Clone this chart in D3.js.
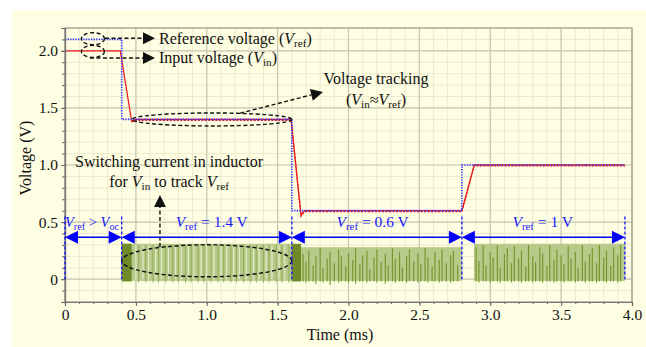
<!DOCTYPE html>
<html><head><meta charset="utf-8">
<script src="https://cdn.jsdelivr.net/npm/d3@7/dist/d3.min.js"></script>
<style>body{margin:0;background:#fff}svg{display:block}</style>
</head><body>
<svg id="c" width="646" height="347"></svg>
<script>
// ---------- data ----------
const xTicks = [0, 0.5, 1.0, 1.5, 2.0, 2.5, 3.0, 3.5, 4.0];
const xTickLabels = ["0", "0.5", "1.0", "1.5", "2.0", "2.5", "3.0", "3.5", "4.0"];
const yTicks = [0, 0.5, 1.0, 1.5, 2.0];
const yTickLabels = ["0", "0.5", "1.0", "1.5", "2.0"];

// reference voltage (step waveform)
const vrefT = [0, 0.4, 0.4, 1.6, 1.6, 2.8, 2.8, 3.95];
const vrefV = [2.1, 2.1, 1.4, 1.4, 0.6, 0.6, 1.0, 1.0];
// input voltage
const vinT = [0, 0.39, 0.47, 0.5, 1.595, 1.665, 1.69, 2.8, 2.887, 3.95];
const vinV = [2.0, 2.0, 1.385, 1.4, 1.4, 0.56, 0.6, 0.6, 1.0, 1.0];

// switching-current bursts: [start, end, top, bottom]
const bursts = [[0.4, 1.6, 0.31, -0.015], [1.6, 2.8, 0.28, -0.015], [2.885, 3.95, 0.31, -0.015]];
// solid dark bands at the start of bursts: [start, end]
const solidBands = [[0.4, 0.47], [1.6, 1.665]];
// light gap lines inside first burst
const gapLines1 = [0.5, 0.55, 0.59, 0.64, 0.68, 0.73, 0.78, 0.82, 0.87, 0.91, 0.96, 1.0, 1.05, 1.1, 1.14, 1.19, 1.23, 1.28, 1.33, 1.37, 1.42, 1.46, 1.51, 1.55];
// medium stripes inside first burst
const midStripes1 = [0.52, 0.57, 0.62, 0.66, 0.71, 0.76, 0.8, 0.85, 0.89, 0.94, 0.98, 1.03, 1.08, 1.12, 1.17, 1.21, 1.26, 1.31, 1.35, 1.4, 1.44, 1.49, 1.53, 1.58];
// dark stripes: [time, top, bottom]
const darkStripes = [
 [1.68,0.22,-0.02],[1.70,0.15,-0.03],[1.72,0.25,-0.02],[1.75,0.12,-0.02],[1.77,0.20,-0.04],[1.80,0.27,-0.02],
 [1.82,0.10,-0.03],[1.85,0.18,-0.02],[1.87,0.24,-0.05],[1.90,0.14,-0.02],[1.93,0.26,-0.03],[1.95,0.20,-0.02],
 [1.98,0.11,-0.02],[2.00,0.23,-0.03],[2.03,0.17,-0.02],[2.05,0.27,-0.04],[2.08,0.13,-0.02],[2.10,0.21,-0.02],
 [2.13,0.25,-0.03],[2.15,0.09,-0.02],[2.18,0.19,-0.02],[2.20,0.26,-0.03],[2.23,0.15,-0.02],[2.26,0.22,-0.04],
 [2.28,0.12,-0.02],[2.31,0.27,-0.02],[2.33,0.18,-0.03],[2.36,0.24,-0.02],[2.38,0.10,-0.02],[2.41,0.20,-0.03],
 [2.43,0.26,-0.02],[2.46,0.16,-0.02],[2.49,0.23,-0.03],[2.51,0.13,-0.02],[2.54,0.27,-0.02],[2.56,0.19,-0.03],
 [2.59,0.11,-0.02],[2.61,0.24,-0.02],[2.64,0.17,-0.03],[2.66,0.26,-0.02],[2.69,0.14,-0.02],[2.72,0.21,-0.03],
 [2.74,0.25,-0.02],[2.77,0.12,-0.02],
 [2.90,0.28,-0.02],[2.92,0.16,-0.03],[2.95,0.30,-0.02],[2.97,0.12,-0.02],[3.00,0.24,-0.03],[3.02,0.19,-0.02],
 [3.05,0.30,-0.02],[3.07,0.10,-0.03],[3.10,0.22,-0.02],[3.12,0.27,-0.02],[3.15,0.14,-0.03],[3.17,0.29,-0.02],
 [3.20,0.18,-0.02],[3.22,0.25,-0.03],[3.25,0.11,-0.02],[3.27,0.30,-0.02],[3.30,0.20,-0.03],[3.32,0.15,-0.02],
 [3.35,0.28,-0.02],[3.37,0.23,-0.03],[3.40,0.12,-0.02],[3.42,0.30,-0.02],[3.45,0.17,-0.03],[3.47,0.26,-0.02],
 [3.50,0.21,-0.02],[3.52,0.13,-0.03],[3.55,0.29,-0.02],[3.57,0.18,-0.02],[3.60,0.24,-0.03],[3.62,0.10,-0.02],
 [3.65,0.30,-0.02],[3.67,0.16,-0.03],[3.70,0.22,-0.02],[3.72,0.27,-0.02],[3.75,0.14,-0.03],[3.77,0.30,-0.02],
 [3.80,0.19,-0.02],[3.82,0.25,-0.03],[3.85,0.12,-0.02],[3.87,0.28,-0.02],[3.90,0.21,-0.03],[3.92,0.30,-0.02]
];
// interval markers (blue double arrows)
const intervalBounds = [0, 0.4, 1.6, 2.8, 3.95];

// ---------- setup ----------
const svg = d3.select("#c");
const x = d3.scaleLinear().domain([0, 4]).range([65, 632]);
const y = d3.scaleLinear().domain([-0.2, 2.2]).range([302, 28]);
const SERIF = "'Liberation Serif','Times New Roman',serif";

svg.append("rect").attr("x", 12).attr("y", 10).attr("width", 634).attr("height", 337).attr("fill", "#fefee2");

// grid
const g = svg.append("g");
const minorX = d3.range(0, 4.0001, 0.1).map(v => +v.toFixed(2));
const minorY = d3.range(-0.2, 2.2001, 0.1).map(v => +v.toFixed(2));
g.selectAll(".mx").data(minorX).join("line").attr("x1", d => x(d)).attr("x2", d => x(d))
  .attr("y1", y(-0.2)).attr("y2", y(2.2)).attr("stroke", "#ebead0").attr("stroke-width", 1);
g.selectAll(".my").data(minorY).join("line").attr("y1", d => y(d)).attr("y2", d => y(d))
  .attr("x1", x(0)).attr("x2", x(4)).attr("stroke", "#ebead0").attr("stroke-width", 1);
g.selectAll(".Mx").data(xTicks).join("line").attr("x1", d => x(d)).attr("x2", d => x(d))
  .attr("y1", y(-0.2)).attr("y2", y(2.2)).attr("stroke", "#c9c7b4").attr("stroke-width", 1.2);
g.selectAll(".My").data(yTicks).join("line").attr("y1", d => y(d)).attr("y2", d => y(d))
  .attr("x1", x(0)).attr("x2", x(4)).attr("stroke", "#c9c7b4").attr("stroke-width", 1.2);

// ---------- switching current ----------
const cur = svg.append("g");
cur.selectAll(".burst").data(bursts).join("rect")
  .attr("x", d => x(d[0])).attr("width", d => x(d[1]) - x(d[0]))
  .attr("y", d => y(d[2])).attr("height", d => y(d[3]) - y(d[2]))
  .attr("fill", "#b7ca8a");
cur.selectAll(".gap").data(gapLines1).join("line")
  .attr("x1", d => x(d)).attr("x2", d => x(d)).attr("y1", y(0.3)).attr("y2", y(0.0))
  .attr("stroke", "#e3ebc8").attr("stroke-width", 1.2);
cur.selectAll(".mid").data(midStripes1).join("line")
  .attr("x1", d => x(d)).attr("x2", d => x(d)).attr("y1", y(0.3)).attr("y2", y(-0.03))
  .attr("stroke", "#95ad5c").attr("stroke-width", 1);
cur.selectAll(".dark").data(darkStripes).join("line")
  .attr("x1", d => x(d[0])).attr("x2", d => x(d[0])).attr("y1", d => y(d[1])).attr("y2", d => y(d[2]))
  .attr("stroke", "#7a962f").attr("stroke-width", 1.2);
cur.selectAll(".band").data(solidBands).join("rect")
  .attr("x", d => x(d[0])).attr("width", d => x(d[1]) - x(d[0]))
  .attr("y", y(0.31)).attr("height", y(-0.02) - y(0.31)).attr("fill", "#6f8b28");

// ---------- voltage lines ----------
const vinData = vinT.map((t, i) => [t, vinV[i]]);
const vrefData = vrefT.map((t, i) => [t, vrefV[i]]);
const line = d3.line().x(d => x(d[0])).y(d => y(d[1]));
svg.append("path").attr("d", line(vinData)).attr("fill", "none").attr("stroke", "#ee2020").attr("stroke-width", 1.3);
svg.append("path").attr("d", line(vinData.slice(2))).attr("fill", "none").attr("stroke", "#e81818")
  .attr("stroke-width", 1.2).attr("stroke-dasharray", "2,1.5").attr("transform", "translate(0,1)");
svg.append("path").attr("d", line(vrefData)).attr("fill", "none").attr("stroke", "#3030ff")
  .attr("stroke-width", 1.6).attr("stroke-dasharray", "1.3,1.3");

// ---------- frame & axes ----------
svg.append("rect").attr("x", x(0)).attr("y", y(2.2)).attr("width", x(4) - x(0)).attr("height", y(-0.2) - y(2.2))
  .attr("fill", "none").attr("stroke", "#a3a192").attr("stroke-width", 1.3);

const yAxis = svg.append("g").attr("transform", `translate(${x(0)},0)`)
  .call(d3.axisLeft(y).tickValues(yTicks).tickFormat((d, i) => yTickLabels[i]).tickSize(4).tickPadding(3));
const yMinor = svg.append("g").attr("transform", `translate(${x(0)},0)`)
  .call(d3.axisLeft(y).tickValues(minorY).tickFormat("").tickSize(3));
const xAxis = svg.append("g").attr("transform", `translate(0,${y(-0.2)})`)
  .call(d3.axisBottom(x).tickValues(xTicks).tickFormat((d, i) => xTickLabels[i]).tickSize(4).tickPadding(3));
const xMinor = svg.append("g").attr("transform", `translate(0,${y(-0.2)})`)
  .call(d3.axisBottom(x).tickValues(minorX).tickFormat("").tickSize(2));
[yAxis, yMinor, xAxis, xMinor].forEach(a => {
  a.select(".domain").attr("stroke", "#777").attr("stroke-width", 1.2);
  a.selectAll(".tick line").attr("stroke", "#666");
  a.selectAll("text").attr("font-family", SERIF).attr("font-size", 15.5).attr("fill", "#111");
});

svg.append("text").attr("x", 340).attr("y", 340).attr("text-anchor", "middle")
  .attr("font-family", SERIF).attr("font-size", 16).attr("fill", "#111").text("Time (ms)");
svg.append("text").attr("transform", "translate(31,158) rotate(-90)").attr("text-anchor", "middle")
  .attr("font-family", SERIF).attr("font-size", 16).attr("fill", "#111").text("Voltage (V)");

// ---------- helpers ----------
function rich(parent, px, py, parts, anchor, color, size) {
  const fs = size || 16;
  const t = parent.append("text").attr("x", px).attr("y", py).attr("text-anchor", anchor || "start")
    .attr("font-family", SERIF).attr("font-size", fs).attr("fill", color || "#111");
  let shifted = false;
  parts.forEach(p => {
    const s = t.append("tspan").text(p[0]);
    if (p[1] === "i") s.attr("font-style", "italic");
    if (p[1] === "sub") { s.attr("font-size", fs * 0.7).attr("dy", shifted ? 0 : 3); shifted = true; }
    else if (shifted) { s.attr("dy", -3); shifted = false; }
  });
  return t;
}
function tri(parent, tx, ty, dir, len, half, color) {
  const a = Math.atan2(dir[1], dir[0]);
  const bx = tx - len * Math.cos(a), by = ty - len * Math.sin(a);
  const nx = -Math.sin(a) * half, ny = Math.cos(a) * half;
  parent.append("path").attr("d", `M${tx},${ty}L${bx + nx},${by + ny}L${bx - nx},${by - ny}Z`).attr("fill", color);
}
function dashedArrow(parent, x1, y1, x2, y2) {
  const dx = x2 - x1, dy = y2 - y1, L = Math.hypot(dx, dy), len = 12;
  parent.append("line").attr("x1", x1).attr("y1", y1).attr("x2", x2 - dx / L * len).attr("y2", y2 - dy / L * len)
    .attr("stroke", "#111").attr("stroke-width", 1.4).attr("stroke-dasharray", "4,2.5");
  tri(parent, x2, y2, [dx, dy], len, 6, "#111");
}
function dashedEllipse(parent, cx, cy, rx, ry) {
  parent.append("ellipse").attr("cx", cx).attr("cy", cy).attr("rx", rx).attr("ry", ry)
    .attr("fill", "none").attr("stroke", "#111").attr("stroke-width", 1.4).attr("stroke-dasharray", "4,2.5");
}

// ---------- black annotations ----------
const ann = svg.append("g");
dashedEllipse(ann, x(0.197), y(2.106), 11.5, 6);
dashedEllipse(ann, x(0.197), y(1.995), 11.5, 6);
dashedArrow(ann, x(0.282), y(2.11), x(0.635), y(2.11));
dashedArrow(ann, x(0.176), y(1.937), x(0.635), y(1.937));
rich(ann, x(0.663), y(2.06), [["Reference voltage ("], ["V", "i"], ["ref", "sub"], [")"]]);
rich(ann, x(0.663), y(1.895), [["Input voltage ("], ["V", "i"], ["in", "sub"], [")"]]);

dashedEllipse(ann, x(1.037), y(1.399), 80, 6.5);
dashedArrow(ann, x(1.235), y(1.454), x(1.82), y(1.64));
rich(ann, x(2.194), y(1.71), [["Voltage tracking"]], "middle");
rich(ann, x(2.194), y(1.526), [["("], ["V", "i"], ["in", "sub"], ["≈"], ["V", "i"], ["ref", "sub"], [")"]], "middle");

rich(ann, x(0.734), y(0.983), [["Switching current in inductor"]], "middle");
rich(ann, x(0.734), y(0.808), [["for "], ["V", "i"], ["in", "sub"], [" to track "], ["V", "i"], ["ref", "sub"]], "middle");
dashedArrow(ann, x(0.67), y(0.282), x(0.67), y(0.738));
dashedEllipse(ann, x(1.0), y(0.161), 85, 16);

// ---------- blue interval markers ----------
const blue = svg.append("g");
const ya = y(0.367);
blue.selectAll(".vd").data(intervalBounds).join("line")
  .attr("x1", d => x(d)).attr("x2", d => x(d)).attr("y1", y(0.55)).attr("y2", y(0.0))
  .attr("stroke", "#1010ff").attr("stroke-width", 1.3).attr("stroke-dasharray", "3,2");
for (let i = 0; i < intervalBounds.length - 1; i++) {
  const a = x(intervalBounds[i]), b = x(intervalBounds[i + 1]);
  blue.append("line").attr("x1", a + 6).attr("x2", b - 6).attr("y1", ya).attr("y2", ya)
    .attr("stroke", "#0000ff").attr("stroke-width", 1.6);
  tri(blue, a, ya, [-1, 0], 13, 6.5, "#0000ff");
  tri(blue, b, ya, [1, 0], 13, 6.5, "#0000ff");
}
const BL = "#1a1aff";
rich(blue, x(0.0), y(0.457), [["V", "i"], ["ref", "sub"], [" > "], ["V", "i"], ["oc", "sub"]], "start", BL, 14.5);
rich(blue, x(1.035), y(0.457), [["V", "i"], ["ref", "sub"], [" = 1.4 V"]], "middle", BL, 15.5);
rich(blue, x(2.17), y(0.457), [["V", "i"], ["ref", "sub"], [" = 0.6 V"]], "middle", BL, 15.5);
rich(blue, x(3.37), y(0.457), [["V", "i"], ["ref", "sub"], [" = 1 V"]], "middle", BL, 15.5);
</script>
</body></html>
